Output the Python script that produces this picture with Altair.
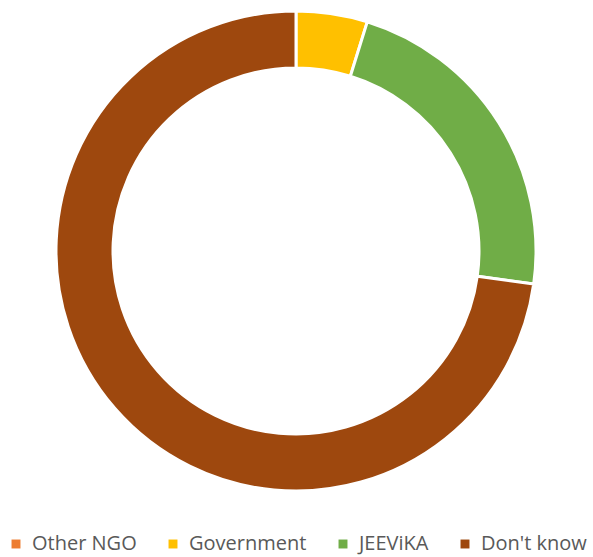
import altair as alt
import pandas as pd

categories = ["Other NGO", "Government", "JEEViKA", "Don't know"]
values = [0.0, 4.8, 22.4, 72.8]
colors = ["#ED7D31", "#FFC000", "#70AD47", "#9E480E"]

df = pd.DataFrame({"cat": categories, "val": values, "order": list(range(len(categories)))})

chart = alt.Chart(df).mark_arc(
    radius=240, radius2=183, stroke="white", strokeWidth=3
).encode(
    theta=alt.Theta("val:Q", stack=True),
    order=alt.Order("order:Q"),
    x=alt.value(296),
    y=alt.value(251),
    color=alt.Color(
        "cat:N",
        scale=alt.Scale(domain=categories, range=colors),
        sort=categories,
        legend=alt.Legend(
            title=None,
            orient="none",
            legendX=6,
            legendY=534,
            direction="horizontal",
            symbolType="square",
            symbolSize=80,
            symbolStrokeWidth=0,
            labelFontSize=20,
            labelFont="Open Sans",
            labelColor="#595959",
            labelOffset=6,
            columnPadding=26,
        ),
    ),
).properties(
    width=593, height=557, padding=0, autosize=alt.AutoSizeParams(type="none")
).configure_view(stroke=None)

chart.save("out.html", embed_options={"renderer": "svg", "actions": False})
